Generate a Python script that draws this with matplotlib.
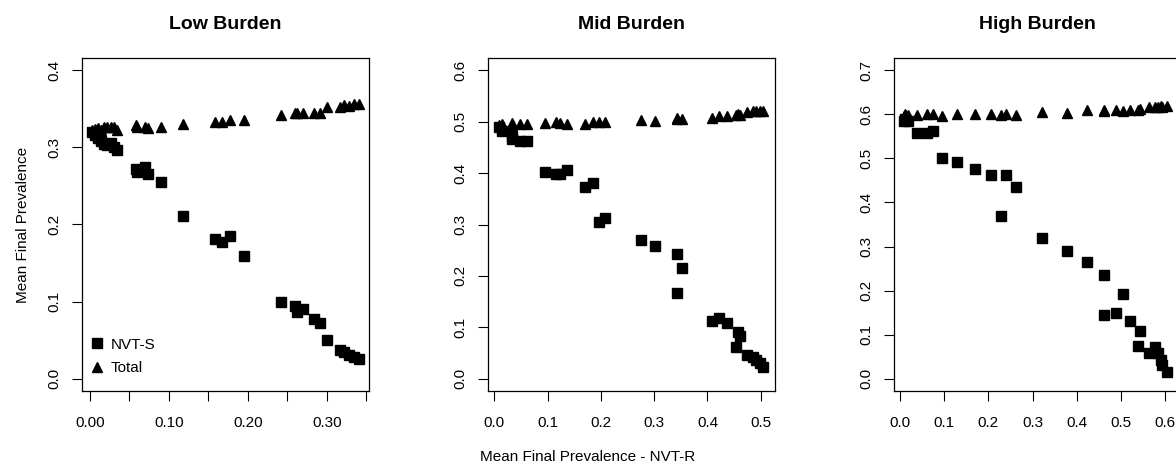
import numpy as np
import matplotlib
matplotlib.use("Agg")
import matplotlib.pyplot as plt

plt.rcParams['font.family'] = ['Liberation Sans', 'DejaVu Sans']

# ---- data ----
titles = ["Low Burden", "Mid Burden", "High Burden"]

# Low burden
low_r = [0.003, 0.006, 0.010, 0.014, 0.018, 0.022, 0.026, 0.030, 0.034,
         0.058, 0.060, 0.070, 0.073, 0.090, 0.118, 0.158, 0.167, 0.177,
         0.195, 0.242, 0.260, 0.262, 0.270, 0.283, 0.291, 0.300, 0.316,
         0.322, 0.328, 0.334, 0.340]
low_s = [0.320, 0.316, 0.312, 0.308, 0.305, 0.303, 0.306, 0.300, 0.296,
         0.272, 0.268, 0.275, 0.265, 0.255, 0.211, 0.181, 0.177, 0.185,
         0.159, 0.100, 0.094, 0.087, 0.090, 0.078, 0.072, 0.050, 0.037,
         0.034, 0.031, 0.028, 0.025]
low_t = [0.322, 0.324, 0.325, 0.322, 0.326, 0.326, 0.327, 0.326, 0.323,
         0.329, 0.327, 0.326, 0.325, 0.327, 0.331, 0.333, 0.333, 0.335,
         0.335, 0.342, 0.345, 0.345, 0.345, 0.345, 0.345, 0.352, 0.353,
         0.355, 0.354, 0.356, 0.356]

# Mid burden
mid_r = [0.008, 0.014, 0.033, 0.033, 0.048, 0.061, 0.095, 0.116, 0.124,
         0.136, 0.170, 0.186, 0.196, 0.207, 0.276, 0.301, 0.342, 0.353,
         0.342, 0.409, 0.421, 0.436, 0.457, 0.461, 0.453, 0.474, 0.485,
         0.491, 0.499, 0.505]
mid_s = [0.489, 0.482, 0.473, 0.466, 0.463, 0.463, 0.402, 0.398, 0.399,
         0.406, 0.373, 0.380, 0.305, 0.313, 0.269, 0.258, 0.243, 0.215,
         0.166, 0.112, 0.118, 0.109, 0.091, 0.083, 0.061, 0.046, 0.042,
         0.037, 0.030, 0.023]
mid_t = [0.493, 0.495, 0.497, 0.494, 0.495, 0.495, 0.498, 0.499, 0.498,
         0.496, 0.496, 0.500, 0.500, 0.500, 0.504, 0.502, 0.507, 0.506,
         0.505, 0.508, 0.511, 0.511, 0.516, 0.513, 0.513, 0.518, 0.520,
         0.521, 0.521, 0.521]

# High burden
high_r = [0.008, 0.011, 0.019, 0.038, 0.060, 0.075, 0.094, 0.128, 0.170,
          0.207, 0.228, 0.241, 0.262, 0.321, 0.377, 0.424, 0.462, 0.462,
          0.490, 0.504, 0.520, 0.543, 0.538, 0.564, 0.577, 0.584, 0.590,
          0.594, 0.605]
high_s = [0.585, 0.590, 0.584, 0.557, 0.557, 0.563, 0.501, 0.493, 0.476,
          0.463, 0.369, 0.463, 0.436, 0.320, 0.289, 0.265, 0.236, 0.145,
          0.148, 0.192, 0.130, 0.109, 0.075, 0.058, 0.072, 0.058, 0.043,
          0.031, 0.016]
high_t = [0.596, 0.601, 0.598, 0.599, 0.600, 0.601, 0.597, 0.600, 0.600,
          0.600, 0.599, 0.600, 0.598, 0.605, 0.603, 0.609, 0.608, 0.609,
          0.610, 0.607, 0.610, 0.612, 0.611, 0.616, 0.617, 0.616, 0.618,
          0.617, 0.618]

panels = [(low_r, low_s, low_t), (mid_r, mid_s, mid_t), (high_r, high_s, high_t)]

xlims = [(-0.0101, 0.3532), (-0.0119, 0.5268), (-0.0136, 0.636)]
ylims = [(-0.016, 0.416), (-0.024, 0.624), (-0.028, 0.728)]
xticks = [np.arange(0, 0.351, 0.05), np.arange(0, 0.51, 0.1), np.arange(0, 0.61, 0.1)]
xticklabels = [["0.00", "", "0.10", "", "0.20", "", "0.30", ""],
               ["0.0", "0.1", "0.2", "0.3", "0.4", "0.5"],
               ["0.0", "0.1", "0.2", "0.3", "0.4", "0.5", "0.6"]]
yticks = [np.arange(0, 0.41, 0.1), np.arange(0, 0.61, 0.1), np.arange(0, 0.71, 0.1)]
lefts = [82, 488, 894]

W, H = 1176, 468
fig = plt.figure(figsize=(W / 100, H / 100), dpi=100)

for i, (r, s, t) in enumerate(panels):
    ax = fig.add_axes([lefts[i] / W, (H - 391) / H, 287 / W, 333 / H])
    ax.plot(r, s, 's', color='black', ms=7, linestyle='none', label='NVT-S')
    ax.plot(r, t, '^', color='black', ms=6.5, linestyle='none', label='Total')
    ax.set_xlim(*xlims[i])
    ax.set_ylim(*ylims[i])
    ax.set_xticks(xticks[i])
    ax.set_xticklabels(xticklabels[i])
    ax.set_yticks(yticks[i])
    ax.set_yticklabels(["%.1f" % v for v in yticks[i]], rotation=90, va='center')
    ax.tick_params(axis='x', length=7, width=0.8, pad=11, labelsize=11)
    ax.tick_params(axis='y', length=7, width=0.8, pad=8, labelsize=11)
    for sp in ax.spines.values():
        sp.set_linewidth(0.9)
    ax.set_title(titles[i], fontsize=14, fontweight='bold', pad=21)
    if i == 0:
        ax.set_ylabel("Mean Final Prevalence", fontsize=11, labelpad=12)
        ax.legend(loc='lower left', bbox_to_anchor=(-0.012, 0.01), frameon=False,
                  fontsize=11, handlelength=0.8, handletextpad=0.5,
                  labelspacing=0.65, borderpad=0.3)

fig.text(588 / W, 1 - 457 / H, "Mean Final Prevalence - NVT-R", fontsize=11,
         ha='center', va='center')

plt.savefig('out.png', dpi=100)
